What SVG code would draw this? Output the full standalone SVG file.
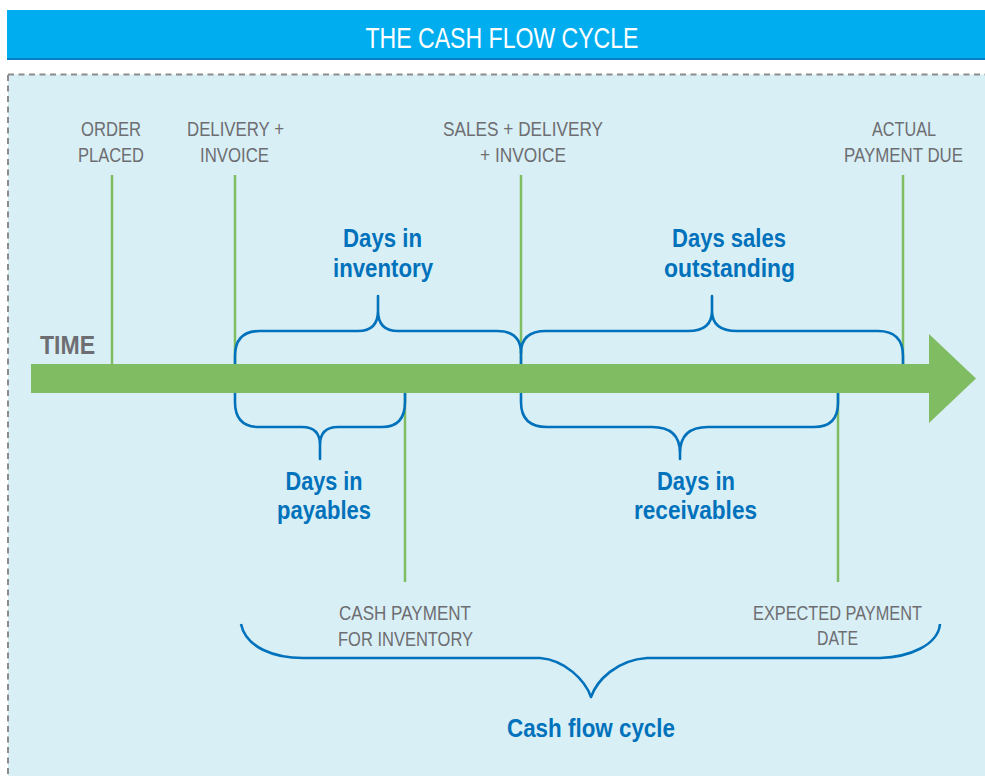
<svg xmlns="http://www.w3.org/2000/svg" width="985" height="776" viewBox="0 0 985 776">
<style>
.lbl{font-family:"Liberation Sans",Arial,sans-serif;font-size:21px;fill:#6D6E71;text-anchor:middle}
.blu{font-family:"Liberation Sans",Arial,sans-serif;font-size:25px;font-weight:bold;fill:#0072BC;text-anchor:middle}
.tick{stroke:#80BD62;stroke-width:2.5;fill:none}
.brace{stroke:#0072BC;stroke-width:2.6;fill:none;stroke-linejoin:round}
</style>
<rect width="985" height="776" fill="#FFFFFF"/>
<g id="header">
<rect x="7" y="10" width="985" height="49" fill="#00AEEF"/>
<line x1="7" y1="59" x2="985" y2="59" stroke="#0A80C4" stroke-width="2"/>
<text x="502" y="48" font-family="Liberation Sans,Arial,sans-serif" font-size="29" fill="#FFFFFF" text-anchor="middle" textLength="273" lengthAdjust="spacingAndGlyphs">THE CASH FLOW CYCLE</text>
</g>
<g id="panel">
<rect x="8" y="74.5" width="1000" height="720" fill="#D9EFF6" stroke="#8C8C8C" stroke-width="2" stroke-dasharray="6,4.5"/>
</g>
<g id="timeline">
<rect x="31" y="364" width="899" height="29" fill="#80BD62"/>
<polygon points="929,334 976,378.5 929,423" fill="#80BD62"/>
<text x="67.5" y="354" font-family="Liberation Sans,Arial,sans-serif" font-size="25" font-weight="bold" fill="#6D6E71" text-anchor="middle" textLength="55" lengthAdjust="spacingAndGlyphs">TIME</text>
</g>
<g id="order-placed">
<line class="tick" x1="112" y1="175" x2="112" y2="364"/>
<text class="lbl" x="111" y="136" textLength="60" lengthAdjust="spacingAndGlyphs">ORDER</text>
<text class="lbl" x="111" y="162" textLength="66" lengthAdjust="spacingAndGlyphs">PLACED</text>
</g>
<g id="delivery-invoice">
<line class="tick" x1="235" y1="175" x2="235" y2="364"/>
<text class="lbl" x="235.5" y="136" textLength="97" lengthAdjust="spacingAndGlyphs">DELIVERY +</text>
<text class="lbl" x="234.5" y="162" textLength="69" lengthAdjust="spacingAndGlyphs">INVOICE</text>
</g>
<g id="sales-delivery-invoice">
<line class="tick" x1="521" y1="175" x2="521" y2="364"/>
<text class="lbl" x="523" y="136" textLength="160" lengthAdjust="spacingAndGlyphs">SALES + DELIVERY</text>
<text class="lbl" x="523" y="162" textLength="86" lengthAdjust="spacingAndGlyphs">+ INVOICE</text>
</g>
<g id="actual-payment-due">
<line class="tick" x1="903" y1="175" x2="903" y2="364"/>
<text class="lbl" x="904" y="136" textLength="64" lengthAdjust="spacingAndGlyphs">ACTUAL</text>
<text class="lbl" x="903.5" y="162" textLength="119" lengthAdjust="spacingAndGlyphs">PAYMENT DUE</text>
</g>
<g id="cash-payment">
<line class="tick" x1="405" y1="393" x2="405" y2="582"/>
<text class="lbl" x="405" y="620" textLength="132" lengthAdjust="spacingAndGlyphs">CASH PAYMENT</text>
<text class="lbl" x="405.5" y="646" textLength="135" lengthAdjust="spacingAndGlyphs">FOR INVENTORY</text>
</g>
<g id="expected-payment">
<line class="tick" x1="838" y1="393" x2="838" y2="582"/>
<text class="lbl" x="837.5" y="620" textLength="169" lengthAdjust="spacingAndGlyphs">EXPECTED PAYMENT</text>
<text class="lbl" x="837.5" y="645" textLength="41" lengthAdjust="spacingAndGlyphs">DATE</text>
</g>
<g id="connectors">
<path class="brace" d="M235,364 L235,356 Q235,331 260,331 L358,331 Q378,331 378,311 L378,296 L378,311 Q378,331 398,331 L497,331 Q521,331 521,353 L521,364"/>
<path class="brace" d="M521,353 Q521,331 546,331 L688,331 Q712,331 712,311 L712,296 L712,311 Q712,331 737,331 L878,331 Q903,331 903,356 L903,364"/>
<path class="brace" d="M235,393 L235,402 Q235,427 259,427 L302,427 Q320,427 320,445 L320,459 L320,445 Q320,427 338,427 L382,427 Q405,427 405,402 L405,393"/>
<path class="brace" d="M521,393 L521,402 Q521,427 547,427 L652,427 Q680,427 680,453 L680,459 L680,453 Q680,427 708,427 L814,427 Q838,427 838,403 L838,393"/>
<path class="brace" d="M241,624 C246,648 275,658 303,658 L540,658 C565,660 585,680 591,697 C597,680 617,660 647,658 L880,658 C910,657 938,645 940,624"/>
</g>
<g id="days-in-inventory">
<text class="blu" x="382.5" y="247" textLength="79" lengthAdjust="spacingAndGlyphs">Days in</text>
<text class="blu" x="383" y="277" textLength="100" lengthAdjust="spacingAndGlyphs">inventory</text>
</g>
<g id="days-sales-outstanding">
<text class="blu" x="729" y="247" textLength="114" lengthAdjust="spacingAndGlyphs">Days sales</text>
<text class="blu" x="729.5" y="277" textLength="131" lengthAdjust="spacingAndGlyphs">outstanding</text>
</g>
<g id="days-in-payables">
<text class="blu" x="324" y="490" textLength="77" lengthAdjust="spacingAndGlyphs">Days in</text>
<text class="blu" x="324" y="519" textLength="94" lengthAdjust="spacingAndGlyphs">payables</text>
</g>
<g id="days-in-receivables">
<text class="blu" x="696" y="490" textLength="78" lengthAdjust="spacingAndGlyphs">Days in</text>
<text class="blu" x="695.5" y="519" textLength="123" lengthAdjust="spacingAndGlyphs">receivables</text>
</g>
<g id="cash-flow-cycle">
<text class="blu" x="591" y="737" font-size="26" textLength="168" lengthAdjust="spacingAndGlyphs">Cash flow cycle</text>
</g>
</svg>
